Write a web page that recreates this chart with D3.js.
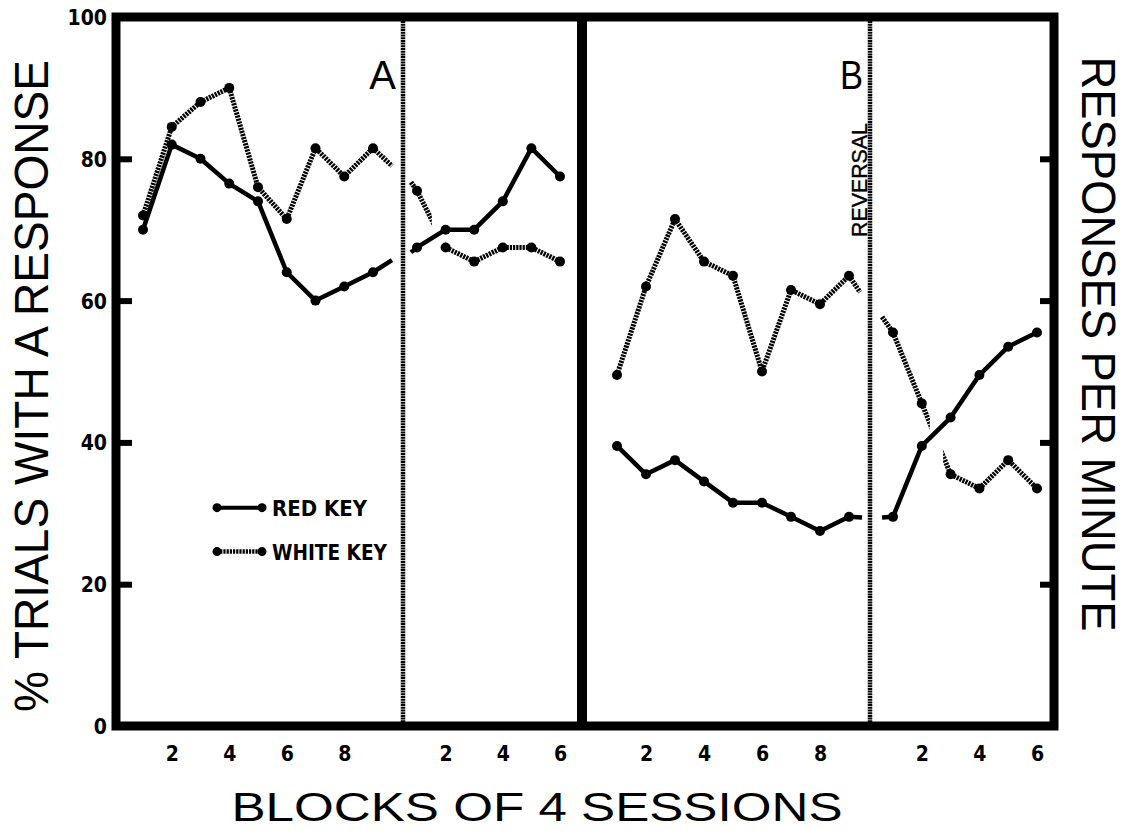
<!DOCTYPE html>
<html>
<head>
<meta charset="utf-8">
<script src="https://cdn.jsdelivr.net/npm/d3@7"></script>
<style>
  body { margin: 0; background: #fff; }
  svg { display: block; }
  .num { font-family: "DejaVu Sans Condensed", "Liberation Sans Narrow", sans-serif; font-weight: bold; }
  .title { font-family: "Liberation Sans", Arial, sans-serif; }
</style>
</head>
<body>
<div id="canvas"></div>
<script>
// values (blocks of 4 sessions, % trials with a response)
var redA1   = [70, 82, 80, 76.5, 74, 64, 60, 62, 64];
var whiteA1 = [72, 84.5, 88, 90, 76, 71.5, 81.5, 77.5, 81.5];
var redA2   = [67.5, 70, 70, 74, 81.5, 77.5];
var whiteA2 = [75.5, 67.5, 65.5, 67.5, 67.5, 65.5];
var redB1   = [39.5, 35.5, 37.5, 34.5, 31.5, 31.5, 29.5, 27.5, 29.5];
var whiteB1 = [49.5, 62, 71.5, 65.5, 63.5, 50, 61.5, 59.5, 63.5];
var redB2   = [29.5, 39.5, 43.5, 49.5, 53.5, 55.5];
var whiteB2 = [55.5, 45.5, 35.5, 33.5, 37.5, 33.5];

// broken line ends next to the dotted dividers: [block, value] pairs
var stubs = [
  {panel: 'A1', key: 'red',   pts: [[9, 64], [9.66, 65.7]]},
  {panel: 'A1', key: 'white', pts: [[9, 81.5], [9.66, 79]]},
  {panel: 'A2', key: 'red',   pts: [[0.79, 66.8], [1, 67.5]]},
  {panel: 'A2', key: 'white', pts: [[0.79, 76.7], [1, 75.5]]},
  {panel: 'B1', key: 'red',   pts: [[9, 29.5], [9.45, 29.4]]},
  {panel: 'B1', key: 'white', pts: [[9, 63.5], [9.38, 61.2]]},
  {panel: 'B2', key: 'red',   pts: [[0.62, 29.4], [1, 29.5]]},
  {panel: 'B2', key: 'white', pts: [[0.62, 57.7], [1, 55.5]]}
];
// gaps in the white key lines (block ranges that are not inked)
var gaps = [
  {panel: 'A2', from: 1.52, to: 2},
  {panel: 'B2', from: 2.28, to: 2.74}
];

var yTicks = [0, 20, 40, 60, 80, 100];
var xTicksLong = [2, 4, 6, 8];
var xTicksShort = [2, 4, 6];

var W = 1128, H = 831;
var box = {l: 116, r: 1054, t: 17, b: 726};

var svg = d3.select('#canvas').append('svg')
    .attr('width', W).attr('height', H);

var y = d3.scaleLinear().domain([0, 100]).range([box.b, box.t]);

var panels = {
  A1: {x: d3.scaleLinear().domain([1, 9]).range([143, 373]), red: redA1, white: whiteA1, ticks: xTicksLong},
  A2: {x: d3.scaleLinear().domain([1, 6]).range([417, 560]), red: redA2, white: whiteA2, ticks: xTicksShort},
  B1: {x: d3.scaleLinear().domain([1, 9]).range([617, 849]), red: redB1, white: whiteB1, ticks: xTicksLong},
  B2: {x: d3.scaleLinear().domain([1, 6]).range([893, 1037]), red: redB2, white: whiteB2, ticks: xTicksShort}
};

var styles = {
  red:   {width: 4.5, dash: null},
  white: {width: 5, dash: '2.2,1'}
};

// masks for the gaps
var defs = svg.append('defs');
gaps.forEach(function(g, i) {
  var p = panels[g.panel];
  var m = defs.append('mask').attr('id', 'gap' + i).attr('maskUnits', 'userSpaceOnUse')
      .attr('x', 0).attr('y', 0).attr('width', W).attr('height', H);
  m.append('rect').attr('width', W).attr('height', H).attr('fill', '#fff');
  m.append('rect').attr('x', p.x(g.from)).attr('y', 0)
      .attr('width', p.x(g.to) - p.x(g.from)).attr('height', H).attr('fill', '#000');
  p.gapMask = 'url(#gap' + i + ')';
});

// frame
svg.append('rect')
    .attr('x', box.l).attr('y', box.t)
    .attr('width', box.r - box.l).attr('height', box.b - box.t)
    .attr('fill', 'none').attr('stroke', '#000').attr('stroke-width', 9);

// centre divider (A | B)
svg.append('line')
    .attr('x1', 582).attr('x2', 582).attr('y1', box.t).attr('y2', box.b)
    .attr('stroke', '#000').attr('stroke-width', 10);

// dotted dividers
[403, 870].forEach(function(xx) {
  svg.append('line')
      .attr('x1', xx).attr('x2', xx).attr('y1', box.t + 4).attr('y2', box.b - 4)
      .attr('stroke', '#000').attr('stroke-width', 4.5)
      .attr('stroke-dasharray', '2,0.7');
});

// left axis
var yAxisL = d3.axisLeft(y).tickValues(yTicks).tickSize(-16).tickPadding(9)
    .tickFormat(d3.format('d'));
var gL = svg.append('g').attr('transform', 'translate(' + box.l + ',0)').call(yAxisL);
gL.select('.domain').remove();
gL.selectAll('.tick line').attr('stroke', '#000').attr('stroke-width', 6)
    .attr('display', function(d) { return (d === 0 || d === 100) ? 'none' : null; });
gL.selectAll('.tick text').attr('class', 'num').attr('font-size', 21).attr('fill', '#000')
    .attr('dy', '0.36em');

// right axis (ticks only)
var yAxisR = d3.axisRight(y).tickValues([20, 40, 60, 80]).tickSize(-14).tickFormat('');
var gR = svg.append('g').attr('transform', 'translate(' + box.r + ',0)').call(yAxisR);
gR.select('.domain').remove();
gR.selectAll('.tick line').attr('stroke', '#000').attr('stroke-width', 6);

// x axes per panel
Object.keys(panels).forEach(function(k) {
  var p = panels[k];
  var ax = d3.axisBottom(p.x).tickValues(p.ticks).tickSize(0).tickPadding(20)
      .tickFormat(d3.format('d'));
  var g = svg.append('g').attr('transform', 'translate(0,' + box.b + ')').call(ax);
  g.select('.domain').remove();
  g.selectAll('.tick text').attr('class', 'num').attr('font-size', 21).attr('fill', '#000');
});

// data lines
Object.keys(panels).forEach(function(k) {
  var p = panels[k];
  var line = d3.line().x(function(d) { return p.x(d[0]); }).y(function(d) { return y(d[1]); });
  ['white', 'red'].forEach(function(key) {
    var pts = p[key].map(function(v, i) { return [i + 1, v]; });
    var path = svg.append('path')
        .attr('d', line(pts))
        .attr('fill', 'none').attr('stroke', '#000')
        .attr('stroke-width', styles[key].width)
        .attr('stroke-linejoin', 'round')
        .attr('stroke-dasharray', styles[key].dash);
    if (key === 'white' && p.gapMask) path.attr('mask', p.gapMask);

    stubs.filter(function(s) { return s.panel === k && s.key === key; }).forEach(function(s) {
      svg.append('path')
          .attr('d', line(s.pts))
          .attr('fill', 'none').attr('stroke', '#000')
          .attr('stroke-width', styles[key].width)
          .attr('stroke-dasharray', styles[key].dash);
    });

    svg.append('g').selectAll('circle').data(pts).enter().append('circle')
        .attr('cx', function(d) { return p.x(d[0]); })
        .attr('cy', function(d) { return y(d[1]); })
        .attr('r', 5).attr('fill', '#000');
  });
});

// legend
var legend = [
  {key: 'red', label: 'RED KEY', yv: 30.8, len: 95},
  {key: 'white', label: 'WHITE KEY', yv: 24.6, len: 115}
];
var lx = d3.scaleLinear().domain([0, 1]).range([217, 262]);
legend.forEach(function(l) {
  var g = svg.append('g');
  g.append('line')
      .attr('x1', lx(0)).attr('x2', lx(1)).attr('y1', y(l.yv)).attr('y2', y(l.yv))
      .attr('stroke', '#000').attr('stroke-width', styles[l.key].width - 0.5)
      .attr('stroke-dasharray', styles[l.key].dash);
  g.selectAll('circle').data([0, 1]).enter().append('circle')
      .attr('cx', function(d) { return lx(d); }).attr('cy', y(l.yv)).attr('r', 4.5);
  g.append('text').attr('class', 'num')
      .attr('x', 272).attr('y', y(l.yv)).attr('dy', '0.36em')
      .attr('font-size', 22)
      .attr('textLength', l.len).attr('lengthAdjust', 'spacingAndGlyphs')
      .text(l.label);
});

// panel letters
svg.append('text').attr('class', 'title').attr('x', 396).attr('y', 89)
    .attr('text-anchor', 'end').attr('font-size', 40).text('A');
svg.append('text').attr('class', 'title').attr('x', 863).attr('y', 89)
    .attr('text-anchor', 'end').attr('font-size', 40)
    .attr('textLength', 23).attr('lengthAdjust', 'spacingAndGlyphs').text('B');

// reversal marker
svg.append('text').attr('class', 'title')
    .attr('transform', 'translate(867,180) rotate(-90)')
    .attr('text-anchor', 'middle').attr('font-size', 22)
    .attr('stroke', '#000').attr('stroke-width', 0.4)
    .attr('textLength', 114).attr('lengthAdjust', 'spacingAndGlyphs')
    .text('REVERSAL');

// axis titles
svg.append('text').attr('class', 'title')
    .attr('transform', 'translate(48,386) rotate(-90)')
    .attr('text-anchor', 'middle').attr('font-size', 48)
    .attr('textLength', 652).attr('lengthAdjust', 'spacingAndGlyphs')
    .text('% TRIALS WITH A RESPONSE');

svg.append('text').attr('class', 'title')
    .attr('transform', 'translate(1082,344) rotate(90)')
    .attr('text-anchor', 'middle').attr('font-size', 48)
    .attr('textLength', 575).attr('lengthAdjust', 'spacingAndGlyphs')
    .text('RESPONSES PER MINUTE');

svg.append('text').attr('class', 'title')
    .attr('x', 537).attr('y', 821)
    .attr('text-anchor', 'middle').attr('font-size', 41)
    .attr('textLength', 611).attr('lengthAdjust', 'spacingAndGlyphs')
    .text('BLOCKS  OF  4  SESSIONS');
</script>
</body>
</html>
